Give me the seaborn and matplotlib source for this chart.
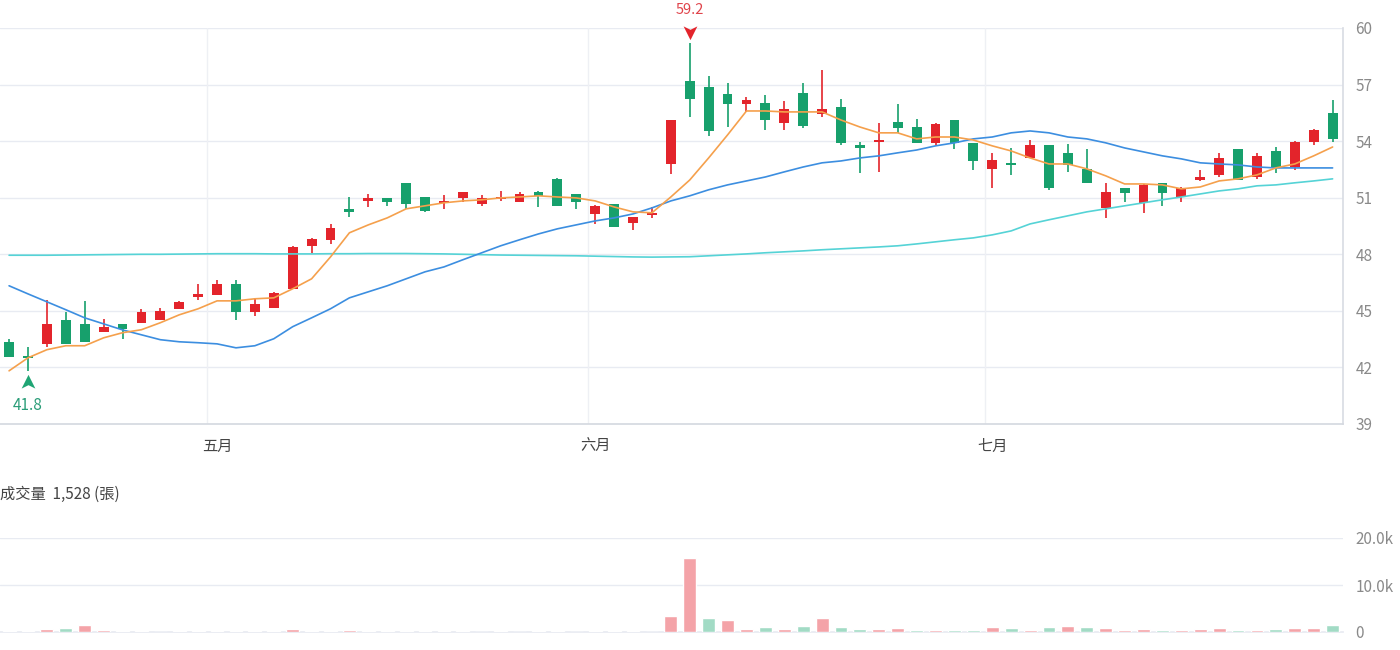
import numpy as np
import pandas as pd
import matplotlib
matplotlib.use("Agg")
import matplotlib.pyplot as plt
import seaborn as sns
from matplotlib.path import Path
from matplotlib.transforms import offset_copy

# daily candles (Apr - Jul)
opens = [43.36, 42.62, 43.25, 44.53, 44.31, 43.89, 44.31, 44.37, 44.53, 45.11,
         45.74, 45.85, 46.43, 44.95, 45.16, 46.17, 48.45, 48.77, 50.41, 50.83,
         50.99, 51.79, 51.04, 50.73, 50.99, 50.67, 50.94, 50.78, 51.31, 52.00,
         51.20, 50.14, 50.67, 49.67, 50.09, 52.79, 57.19, 56.87, 56.50, 55.97,
         56.03, 54.97, 56.56, 55.44, 55.81, 53.80, 53.96, 55.02, 54.75, 53.91,
         55.12, 53.91, 52.53, 52.79, 53.11, 53.80, 53.38, 52.53, 50.46, 51.52,
         50.73, 51.79, 51.04, 51.94, 52.21, 53.59, 52.10, 53.48, 52.63, 53.96,
         55.50]
highs = [43.52, 43.10, 45.59, 44.95, 45.53, 44.58, 44.31, 45.11, 45.16, 45.50,
         46.43, 46.65, 46.65, 45.69, 46.00, 48.45, 48.85, 49.61, 51.04, 51.20,
         50.99, 51.80, 51.04, 51.15, 51.31, 51.15, 51.36, 51.31, 51.36, 52.05,
         51.20, 50.60, 50.67, 50.00, 50.51, 55.12, 59.20, 57.46, 57.09, 56.34,
         56.45, 56.13, 57.09, 57.77, 56.24, 53.96, 54.97, 55.97, 55.18, 54.97,
         55.12, 53.91, 53.38, 53.64, 54.06, 53.80, 53.85, 53.59, 51.79, 51.52,
         51.73, 51.80, 51.55, 52.47, 53.38, 53.60, 53.38, 53.69, 54.01, 54.65,
         56.18]
lows = [42.57, 41.80, 43.10, 43.25, 43.36, 43.89, 43.52, 44.37, 44.53, 45.11,
        45.59, 45.85, 44.53, 44.74, 45.16, 46.17, 48.08, 48.55, 49.98, 50.51,
        50.57, 50.41, 50.25, 50.41, 50.78, 50.57, 50.83, 50.78, 50.51, 50.57,
        50.41, 49.61, 49.45, 49.30, 49.93, 52.26, 55.28, 54.28, 54.75, 55.55,
        54.59, 54.59, 54.70, 55.28, 53.80, 52.32, 52.37, 54.44, 53.91, 53.80,
        53.59, 52.47, 51.52, 52.21, 53.10, 51.42, 52.37, 51.79, 49.93, 50.78,
        50.20, 50.57, 50.78, 51.90, 52.10, 51.94, 52.00, 52.32, 52.47, 53.80,
        53.96]
closes = [42.57, 42.52, 44.31, 43.25, 43.36, 44.15, 44.05, 44.95, 45.00, 45.48,
          45.90, 46.43, 44.95, 45.37, 45.96, 48.39, 48.82, 49.40, 50.25, 50.99,
          50.78, 50.67, 50.30, 50.83, 51.31, 50.99, 51.04, 51.20, 51.10, 50.57,
          50.78, 50.57, 49.45, 49.98, 50.14, 55.12, 56.24, 54.54, 55.97, 56.18,
          55.12, 55.71, 54.81, 55.71, 53.91, 53.64, 54.01, 54.70, 53.91, 54.91,
          53.91, 52.95, 53.00, 52.74, 53.80, 51.52, 52.74, 51.79, 51.31, 51.26,
          51.68, 51.26, 51.52, 52.10, 53.11, 51.94, 53.22, 52.63, 53.96, 54.60,
          54.12]

ma5 = [41.82, 42.51, 42.94, 43.15, 43.15, 43.57, 43.84, 44.00, 44.37, 44.79,
       45.11, 45.53, 45.53, 45.64, 45.69, 46.17, 46.70, 47.86, 49.14, 49.56,
       49.93, 50.41, 50.57, 50.73, 50.83, 50.89, 50.99, 51.04, 51.10, 51.04,
       50.99, 50.83, 50.51, 50.25, 50.20, 51.04, 51.94, 53.11, 54.33, 55.60,
       55.60, 55.55, 55.55, 55.55, 55.12, 54.75, 54.44, 54.44, 54.12, 54.22,
       54.22, 54.06, 53.75, 53.48, 53.11, 52.79, 52.79, 52.53, 52.16, 51.73,
       51.73, 51.68, 51.47, 51.57, 51.89, 52.00, 52.21, 52.58, 52.79, 53.22,
       53.69]
ma20 = [46.33, 45.90, 45.48, 45.06, 44.63, 44.31, 43.99, 43.73, 43.47, 43.36,
        43.31, 43.25, 43.04, 43.15, 43.52, 44.16, 44.63, 45.11, 45.69, 46.01,
        46.33, 46.70, 47.07, 47.33, 47.71, 48.08, 48.45, 48.77, 49.08, 49.35,
        49.56, 49.77, 49.93, 50.14, 50.46, 50.83, 51.10, 51.42, 51.68, 51.89,
        52.10, 52.37, 52.63, 52.85, 52.95, 53.11, 53.22, 53.38, 53.53, 53.75,
        53.91, 54.12, 54.22, 54.44, 54.54, 54.44, 54.22, 54.12, 53.91, 53.64,
        53.43, 53.22, 53.06, 52.85, 52.79, 52.74, 52.63, 52.58, 52.58, 52.58,
        52.58]
ma60 = [47.95, 47.95, 47.95, 47.96, 47.97, 47.98, 47.99, 48.00, 48.00, 48.01,
        48.02, 48.03, 48.03, 48.03, 48.02, 48.02, 48.02, 48.03, 48.03, 48.04,
        48.04, 48.04, 48.03, 48.02, 48.00, 47.98, 47.96, 47.95, 47.94, 47.93,
        47.92, 47.90, 47.88, 47.86, 47.85, 47.86, 47.87, 47.92, 47.97, 48.02,
        48.08, 48.13, 48.18, 48.24, 48.29, 48.34, 48.39, 48.45, 48.55, 48.66,
        48.77, 48.87, 49.03, 49.24, 49.61, 49.83, 50.04, 50.25, 50.41, 50.57,
        50.73, 50.89, 51.04, 51.20, 51.36, 51.47, 51.63, 51.68, 51.79, 51.89,
        52.00]

# volume in lots (張), colour = up/down vs previous close
volumes = [150, 150, 560, 760, 1460, 350, 200, 280, 100, 200,
           280, 200, 280, 140, 140, 630, 280, 280, 490, 280,
           140, 200, 140, 140, 200, 100, 140, 100, 140, 200,
           100, 140, 140, 280, 50, 3400, 15750, 2950, 2600, 680,
           1030, 680, 1230, 3000, 1160, 550, 680, 820, 480, 480,
           480, 480, 1030, 820, 480, 1030, 1300, 1030, 820, 480,
           550, 410, 340, 620, 750, 410, 410, 550, 750, 750,
           1528]
vol_dir = ["d", "d", "u", "d", "u", "u", "d", "u", "u", "u",
           "u", "u", "d", "u", "u", "u", "u", "u", "u", "u",
           "d", "d", "d", "u", "u", "d", "u", "u", "d", "d",
           "u", "d", "d", "u", "u", "u", "u", "d", "u", "u",
           "d", "u", "d", "u", "d", "d", "u", "u", "d", "u",
           "d", "d", "u", "d", "u", "d", "u", "d", "u", "u",
           "u", "d", "u", "u", "u", "d", "u", "d", "u", "u",
           "d"]

months = ["五月", "六月", "七月"]
month_start = [11, 31, 52]
month_grid = [10.47, 30.6, 51.6]

RED = "#E3242B"
GREEN = "#17A06C"
VRED = "#F4A3A8"
VGREEN = "#A2DBC5"

sns.set_theme(style="white")
plt.rcParams["font.family"] = ["Noto Sans CJK TC", "DejaVu Sans"]

fig = plt.figure(figsize=(14, 6.5), dpi=100)
ax = fig.add_axes([0, 1 - 424 / 650, 1343 / 1400, 396 / 650])
ax2 = fig.add_axes([0, 1 - 632 / 650, 1343 / 1400, 94 / 650])

idx = np.arange(len(closes))
o = np.array(opens); c = np.array(closes)
up = c >= o
ccol = np.where(up, RED, GREEN)

# grid
for v in range(42, 61, 3):
    ax.axhline(v, color="#E8EBF2", lw=1, zorder=0)
for g in month_grid:
    ax.axvline(g, color="#EEF0F4", lw=1, zorder=0)

# candles
ax.vlines(idx, lows, highs, colors=ccol, lw=1.2, zorder=2)
body_lo = np.minimum(o, c)
body_h = np.maximum(np.abs(c - o), 0.08)
ax.bar(idx, body_h, bottom=body_lo, width=0.52, color=ccol, zorder=3, linewidth=0)

# moving averages
sns.lineplot(x=idx, y=ma60, color="#55D3D6", lw=1.2, ax=ax, zorder=4)
sns.lineplot(x=idx, y=ma20, color="#3C8EE0", lw=1.2, ax=ax, zorder=4)
sns.lineplot(x=idx, y=ma5, color="#F5A04C", lw=1.2, ax=ax, zorder=4)

# low / high markers
arrow = Path([(0, 1), (-0.9, -0.8), (0, -0.35), (0.9, -0.8), (0, 1)],
             [Path.MOVETO, Path.LINETO, Path.LINETO, Path.LINETO, Path.CLOSEPOLY])
down_arrow = Path([(0, -1), (-0.9, 0.8), (0, 0.35), (0.9, 0.8), (0, -1)],
                  [Path.MOVETO, Path.LINETO, Path.LINETO, Path.LINETO, Path.CLOSEPOLY])
ilo = int(np.argmin(lows)); ihi = int(np.argmax(highs))
ax.plot(ilo, lows[ilo], marker=arrow, ms=11, color="#1FA574", mew=0,
        transform=offset_copy(ax.transData, fig, y=-8, units="points"), clip_on=False, zorder=6)
ax.annotate(f"{lows[ilo]:.1f}", (ilo, lows[ilo]), xytext=(0, -25), textcoords="offset points",
            ha="center", va="center", fontsize=11, color="#2A9D78")
ax.plot(ihi, highs[ihi], marker=down_arrow, ms=11, color="#E3242B", mew=0,
        transform=offset_copy(ax.transData, fig, y=8, units="points"), clip_on=False, zorder=6)
ax.annotate(f"{highs[ihi]:.1f}", (ihi, highs[ihi]), xytext=(0, 24), textcoords="offset points",
            ha="center", va="center", fontsize=10.5, color="#E0444B", annotation_clip=False)

ax.set_xlim(-0.48, 70.55)
ax.set_ylim(39, 60)
ax.set_xticks(month_start)
ax.set_xticklabels(months, fontsize=11, color="#444444")
ax.set_yticks(range(39, 61, 3))
ax.yaxis.tick_right()
ax.tick_params(axis="y", length=0, pad=9, labelsize=11, labelcolor="#8A8A8A")
ax.tick_params(axis="x", length=0, pad=10)
for s in ["top", "left"]:
    ax.spines[s].set_visible(False)
ax.spines["right"].set_color("#DADDE4")
ax.spines["bottom"].set_color("#D5D9E0")
ax.set_xlabel(""); ax.set_ylabel("")

# volume
vdf = pd.DataFrame({"idx": idx, "vol": volumes, "dir": vol_dir})
sns.barplot(data=vdf, x="idx", y="vol", hue="dir", palette={"u": VRED, "d": VGREEN},
            native_scale=True, dodge=False, width=0.68, saturation=1, legend=False,
            errorbar=None, ax=ax2, zorder=3)
for v in [10000, 20000]:
    ax2.axhline(v, color="#E8EBF2", lw=1, zorder=0)
ax2.set_xlim(-0.48, 70.55)
ax2.set_ylim(0, 20000)
ax2.set_xticks([])
ax2.set_yticks([0, 10000, 20000])
ax2.set_yticklabels(["0", "10.0k", "20.0k"])
ax2.yaxis.tick_right()
ax2.tick_params(axis="y", length=0, pad=9, labelsize=11, labelcolor="#8A8A8A")
for s in ["top", "left", "right"]:
    ax2.spines[s].set_visible(False)
ax2.spines["bottom"].set_color("#E8EBF2")
ax2.set_xlabel(""); ax2.set_ylabel("")

fig.text(0.0, 1 - 494 / 650, f"成交量  {volumes[-1]:,} (張)", fontsize=11, color="#444444",
         ha="left", va="center")

fig.savefig("out.png", dpi=100)
